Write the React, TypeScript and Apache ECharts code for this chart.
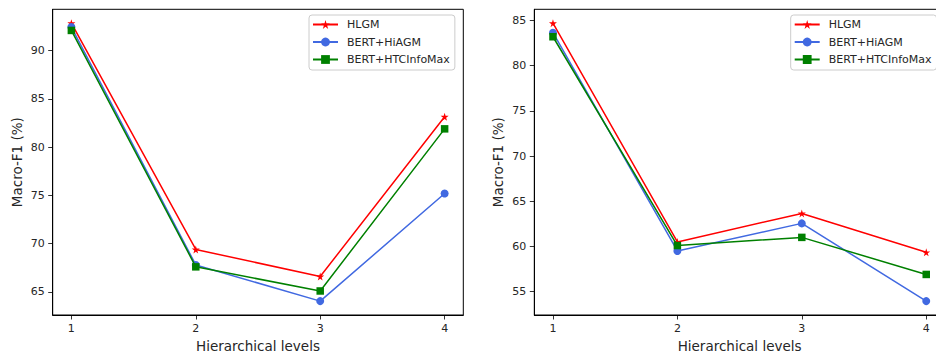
import React, { useEffect, useRef } from "react";
import * as echarts from "echarts";

const levels = [1, 2, 3, 4];
const seriesNames = ["HLGM", "BERT+HiAGM", "BERT+HTCInfoMax"];

// Left panel
const hlgmA = [92.85, 69.4, 66.6, 83.15];
const hiagmA = [92.45, 67.8, 64.05, 75.2];
const infoA = [92.1, 67.6, 65.1, 81.9];

// Right panel
const hlgmB = [84.7, 60.5, 63.65, 59.35];
const hiagmB = [83.65, 59.5, 62.55, 53.95];
const infoB = [83.2, 60.1, 61.0, 56.9];

const yTicksA = [65, 70, 75, 80, 85, 90];
const yTicksB = [55, 60, 65, 70, 75, 80, 85];

const STAR =
  "path://M50,0 L61,35 L98,35 L68,57 L79,91 L50,70 L21,91 L32,57 L2,35 L39,35 Z";

const colors = ["#ff0000", "#4169e1", "#008000"];
const symbols = [STAR, "circle", "rect"];
const symbolSizes = [8, 8, 7.5];

function range(arrs: number[][]) {
  const all = arrs.flat();
  const lo = Math.min(...all);
  const hi = Math.max(...all);
  const m = (hi - lo) * 0.05;
  return [lo - m, hi + m];
}

export default function App() {
  const ref = useRef<HTMLDivElement>(null);
  useEffect(() => {
    if (!ref.current) return;
    const chart = echarts.init(ref.current, undefined, { renderer: "svg" });
    const panels = [
      { data: [hlgmA, hiagmA, infoA], ticks: yTicksA },
      { data: [hlgmB, hiagmB, infoB], ticks: yTicksB },
    ];
    const gridLefts = [52.7, 534.3];
    const legendLefts = [309, 790.7];
    const font = "DejaVu Sans";
    const txt = "#262626";
    const option: any = {
      animation: false,
      textStyle: { fontFamily: font },
      grid: gridLefts.map((l) => ({
        left: l,
        top: 9.3,
        width: 410.6,
        height: 305.7,
        show: true,
        borderColor: "#000",
        borderWidth: 1,
        containLabel: false,
        outerBoundsMode: "none",
      })),
      xAxis: [0, 1].map((i) => ({
        type: "value",
        gridIndex: i,
        min: 0.85,
        max: 4.15,
        splitLine: { show: false },
        axisLine: { show: true, onZero: false, lineStyle: { color: "#000", width: 1 } },
        axisTick: {
          show: true,
          customValues: levels,
          length: 4.5,
          lineStyle: { color: "#000", width: 0.8 },
        },
        axisLabel: {
          customValues: levels,
          margin: 8,
          fontSize: 11,
          color: txt,
          fontFamily: font,
        },
        name: "Hierarchical levels",
        nameLocation: "middle",
        nameGap: 24,
        nameTextStyle: { fontSize: 13.5, color: txt, fontFamily: font },
      })),
      yAxis: panels.map((p, i) => {
        const [lo, hi] = range(p.data);
        return {
          type: "value",
          gridIndex: i,
          min: lo,
          max: hi,
          splitLine: { show: false },
          axisLine: { show: true, onZero: false, lineStyle: { color: "#000", width: 1 } },
          axisTick: {
            show: true,
            customValues: p.ticks,
            length: 4.5,
            lineStyle: { color: "#000", width: 0.8 },
          },
          axisLabel: {
            customValues: p.ticks,
            margin: 8,
            fontSize: 11,
            color: txt,
            fontFamily: font,
          },
          name: "Macro-F1 (%)",
          nameLocation: "middle",
          nameGap: 29,
          nameTextStyle: { fontSize: 13.5, color: txt, fontFamily: font },
        };
      }),
      legend: legendLefts.map((l) => ({
        left: l,
        top: 15,
        orient: "vertical",
        itemWidth: 25,
        itemHeight: 11,
        itemGap: 6.5,
        padding: [4, 5, 5, 3],
        backgroundColor: "#fff",
        borderColor: "#cccccc",
        borderWidth: 1,
        borderRadius: 3,
        selectedMode: false,
        textStyle: { fontSize: 11, color: txt, fontFamily: font, padding: [0, 0, 0, 4] },
        data: seriesNames,
      })),
      series: panels.flatMap((p, pi) =>
        p.data.map((arr, si) => ({
          type: "line",
          name: seriesNames[si],
          xAxisIndex: pi,
          yAxisIndex: pi,
          data: levels.map((x, k) => [x, arr[k]]),
          symbol: symbols[si],
          symbolSize: symbolSizes[si],
          showAllSymbol: true,
          lineStyle: { color: colors[si], width: 1.5 },
          itemStyle: { color: colors[si] },
          z: 2 + si,
        }))
      ),
    };
    chart.setOption(option);
    return () => chart.dispose();
  }, []);
  return (
    <div
      ref={ref}
      style={{ position: "absolute", left: 0, top: 0, width: 936, height: 351, background: "#fff" }}
    />
  );
}
